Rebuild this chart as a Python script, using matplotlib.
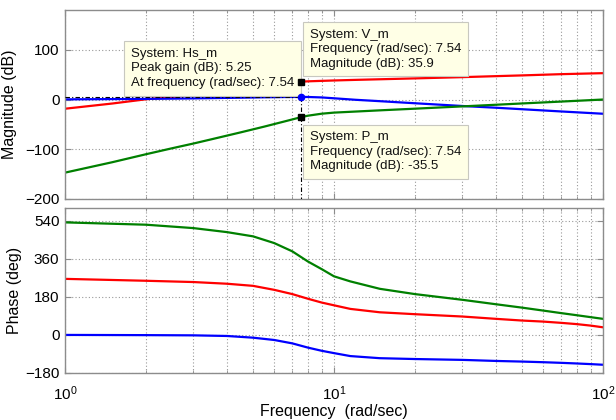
import numpy as np
import matplotlib.pyplot as plt
from matplotlib.ticker import LogLocator, NullFormatter

plt.rcParams['font.family'] = ['Liberation Sans', 'DejaVu Sans']
plt.rcParams['mathtext.fontset'] = 'custom'
plt.rcParams['mathtext.rm'] = 'Liberation Sans'

# magnitude response (dB)
freq_mag = [1, 1.5, 2, 2.5, 3, 3.5, 4.5, 5.5, 6.5, 7.54, 8, 9, 10, 12, 15, 20, 30, 40, 50, 70, 100]
mag_V = [-18.5, -8, 0.5, 5, 8.5, 11.5, 18, 24, 30, 35.9, 36.6, 37.5, 38.3, 39.5, 40.8, 42.5, 45, 47, 48.5, 51, 53]
mag_Hs = [0.3, 0.9, 1.3, 1.8, 2.3, 2.8, 3.7, 4.5, 5.0, 5.25, 5.1, 4.2, 2.5, -0.5, -3.5, -7.5, -13, -16.5, -19.5, -24, -28.6]
mag_P = [-147, -126, -110, -98, -88.5, -80, -66, -54.5, -44.5, -35.5, -32.5, -28.5, -26.3, -24.2, -21.6, -18.4, -13.8, -10.5, -7.9, -4.1, 0]

# phase response (deg)
freq_ph = [1, 2, 3, 4, 5, 6, 7, 8, 9, 10, 11.5, 14.8, 20, 30, 40, 50, 60, 70, 80, 90, 100]
ph_V = [265, 256, 250, 242, 232, 213, 193, 171, 153, 140, 123, 107, 98, 87, 76, 68, 63, 57, 51, 44, 36]
ph_Hs = [0, -1, -2, -5, -13, -24, -40, -60, -75, -86, -100, -110, -114, -118, -123, -126, -129, -132, -135, -138, -141]
ph_P = [532, 521, 505, 486, 466, 434, 395, 347, 311, 277, 253, 218, 193, 166, 145, 129, 115, 103, 93, 84, 76]

# data tips
tip_f = 7.54
tip_V = 35.9
tip_P = -35.5
peak_Hs = 5.25

frame = '0.55'
grid_kw = dict(color='0.6', linestyle=(0, (1, 2)), linewidth=0.8)

fig = plt.figure(figsize=(6.16, 4.2), dpi=100)
ax1 = fig.add_axes([65/616, 1-199/420, 538/616, 189/420])
ax2 = fig.add_axes([65/616, 1-373/420, 538/616, 165/420])

for ax in (ax1, ax2):
    ax.set_xscale('log')
    ax.set_xlim(1, 100)
    ax.xaxis.set_major_locator(LogLocator(base=10))
    ax.xaxis.set_minor_locator(LogLocator(base=10, subs=np.arange(2, 10)))
    ax.xaxis.set_minor_formatter(NullFormatter())
    ax.grid(True, which='both', axis='x', **grid_kw)
    ax.grid(True, which='major', axis='y', **grid_kw)
    ax.set_axisbelow(True)
    for s in ax.spines.values():
        s.set_color(frame)
        s.set_linewidth(1.0)
    ax.tick_params(which='both', direction='in', top=True, right=True,
                   color=frame, labelsize=11, pad=4)
    ax.tick_params(which='major', length=4)
    ax.tick_params(which='minor', length=2)

lw = 1.6
ax1.plot(freq_mag, mag_V, color='#ff0000', lw=lw, zorder=2)
ax1.plot(freq_mag, mag_Hs, color='#0000ff', lw=lw, zorder=2)
ax1.plot(freq_mag, mag_P, color='#008000', lw=lw, zorder=2)
ax1.set_ylim(-200, 180)
ax1.set_yticks([-200, -100, 0, 100])
ax1.tick_params(labelbottom=False)
ax1.set_ylabel('Magnitude (dB)', fontsize=11.5, labelpad=6)

ax2.plot(freq_ph, ph_V, color='#ff0000', lw=lw, zorder=2)
ax2.plot(freq_ph, ph_Hs, color='#0000ff', lw=lw, zorder=2)
ax2.plot(freq_ph, ph_P, color='#008000', lw=lw, zorder=2)
ax2.set_ylim(-180, 600)
ax2.set_yticks([-180, 0, 180, 360, 540])
ax2.tick_params(axis='x', pad=8)
ax2.set_ylabel('Phase (deg)', fontsize=11.5, labelpad=2)
ax2.set_xlabel('Frequency  (rad/sec)', fontsize=11.5, labelpad=1)
fig.align_ylabels([ax1, ax2])

# peak-gain guide lines
tip_ls = (0, (4, 2, 1, 2))
ax1.plot([1, tip_f], [peak_Hs, peak_Hs], color='k', lw=0.8, ls=tip_ls, zorder=3)
ax1.plot([tip_f, tip_f], [peak_Hs, -200], color='k', lw=0.8, ls=tip_ls, zorder=3)

box = dict(boxstyle='square,pad=0.5', facecolor='#ffffe6', edgecolor='#c8c8c0', linewidth=0.8)
txt_kw = dict(fontsize=9.5, color='#111111', linespacing=1.28, multialignment='left',
              xycoords='data', textcoords='offset pixels', bbox=box, zorder=5)

ax1.annotate('System: Hs_m\nPeak gain (dB): %.2f\nAt frequency (rad/sec): %.2f' % (peak_Hs, tip_f),
             xy=(tip_f, peak_Hs), xytext=(-7, 8), ha='right', va='bottom', **txt_kw)
ax1.annotate('System: V_m\nFrequency (rad/sec): %.2f\nMagnitude (dB): %.1f' % (tip_f, tip_V),
             xy=(tip_f, tip_V), xytext=(9, 12), ha='left', va='bottom', **txt_kw)
ax1.annotate('System: P_m\nFrequency (rad/sec): %.2f\nMagnitude (dB): %.1f' % (tip_f, tip_P),
             xy=(tip_f, tip_P), xytext=(9, -14), ha='left', va='top', **txt_kw)

ax1.plot([tip_f], [tip_V], 's', color='k', ms=5, zorder=6)
ax1.plot([tip_f], [tip_P], 's', color='k', ms=5, zorder=6)
ax1.plot([tip_f], [peak_Hs], 'o', color='#0000ff', ms=4.5, zorder=6)

fig.savefig('out.png', dpi=100, facecolor='white')
